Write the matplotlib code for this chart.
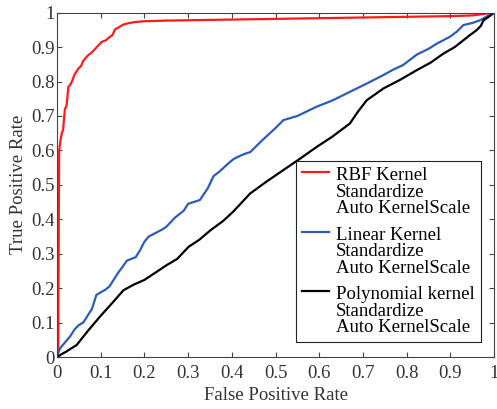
import numpy as np
import matplotlib
matplotlib.use('Agg')
import matplotlib.pyplot as plt
from matplotlib.legend_handler import HandlerLine2D
from matplotlib.ticker import FuncFormatter

# ROC curves
rbf_fpr = [0, 0.003, 0.003, 0.004, 0.004, 0.005, 0.008, 0.011, 0.014, 0.018, 0.022, 0.026,
           0.030, 0.034, 0.040, 0.049, 0.055, 0.060, 0.070, 0.080, 0.091, 0.102, 0.112,
           0.121, 0.127, 0.133, 0.142, 0.151, 0.165, 0.180, 0.197, 0.25, 0.3, 0.4, 0.5,
           0.6, 0.7, 0.8, 0.9, 0.95, 1.0]
rbf_tpr = [0, 0.02, 0.10, 0.38, 0.40, 0.60, 0.63, 0.65, 0.66, 0.72, 0.73, 0.785,
           0.79, 0.80, 0.82, 0.838, 0.845, 0.86, 0.875, 0.885, 0.90, 0.915, 0.92,
           0.93, 0.935, 0.952, 0.958, 0.965, 0.97, 0.973, 0.975, 0.977, 0.978, 0.980, 0.982,
           0.984, 0.986, 0.988, 0.990, 0.992, 1.0]

lin_fpr = [0, 0.005, 0.010, 0.020, 0.030, 0.040, 0.050, 0.060, 0.070, 0.080, 0.090, 0.100,
           0.110, 0.120, 0.130, 0.140, 0.150, 0.160, 0.170, 0.180, 0.190, 0.200, 0.210,
           0.225, 0.240, 0.250, 0.270, 0.290, 0.300, 0.327, 0.345, 0.358, 0.373, 0.390,
           0.404, 0.420, 0.434, 0.442, 0.470, 0.500, 0.518, 0.550, 0.594, 0.630, 0.670,
           0.710, 0.747, 0.770, 0.792, 0.823, 0.850, 0.869, 0.899, 0.915, 0.930, 0.950,
           0.968, 0.985, 1.0]
lin_tpr = [0, 0.02, 0.03, 0.045, 0.06, 0.08, 0.093, 0.10, 0.12, 0.14, 0.18, 0.188,
           0.195, 0.205, 0.225, 0.245, 0.262, 0.28, 0.285, 0.29, 0.31, 0.335, 0.35,
           0.36, 0.37, 0.378, 0.405, 0.425, 0.445, 0.456, 0.49, 0.525, 0.54, 0.56,
           0.575, 0.585, 0.592, 0.595, 0.63, 0.665, 0.688, 0.70, 0.727, 0.745, 0.770,
           0.795, 0.819, 0.835, 0.848, 0.878, 0.895, 0.910, 0.930, 0.945, 0.964, 0.970,
           0.978, 0.99, 1.0]

poly_fpr = [0, 0.010, 0.020, 0.045, 0.070, 0.098, 0.125, 0.152, 0.175, 0.200, 0.225, 0.251,
            0.275, 0.301, 0.325, 0.352, 0.380, 0.403, 0.442, 0.480, 0.518, 0.555, 0.594,
            0.630, 0.670, 0.690, 0.709, 0.747, 0.785, 0.823, 0.855, 0.884, 0.910, 0.930,
            0.945, 0.960, 0.970, 0.976, 0.990, 1.0]
poly_tpr = [0, 0.008, 0.015, 0.035, 0.075, 0.117, 0.155, 0.194, 0.21, 0.224, 0.245, 0.267,
            0.285, 0.32, 0.34, 0.369, 0.395, 0.422, 0.475, 0.51, 0.543, 0.575, 0.610,
            0.640, 0.678, 0.715, 0.746, 0.780, 0.805, 0.833, 0.855, 0.881, 0.900, 0.920,
            0.935, 0.949, 0.962, 0.978, 0.99, 1.0]

labels = ['RBF Kernel\nStandardize\nAuto KernelScale',
          'Linear Kernel\nStandardize\nAuto KernelScale',
          'Polynomial kernel\nStandardize\nAuto KernelScale']
colors = ['#ff1a1a', '#2a5cb8', '#000000']

plt.rcParams['font.family'] = ['Liberation Serif', 'DejaVu Serif']
FS = 13.5
LEG_FS = 13.5
LSP = 0.96


class TopLineHandler(HandlerLine2D):
    # put the legend line next to the first row of a multi-line label
    def create_artists(self, legend, orig_handle, xdescent, ydescent, width, height, fontsize, trans):
        arts = super().create_artists(legend, orig_handle, xdescent, ydescent, width, height, fontsize, trans)
        shift = LSP * 1.2 * fontsize * 0.93
        for a in arts:
            a.set_ydata(np.asarray(a.get_ydata()) + shift)
        return arts


fig = plt.figure(figsize=(4.97, 4.09), dpi=100)
ax = fig.add_axes([0.1147, 0.127, 0.8793, 0.842])

curves = [(rbf_fpr, rbf_tpr), (lin_fpr, lin_tpr), (poly_fpr, poly_tpr)]
for (x, y), lab, c in zip(curves, labels, colors):
    ax.plot(x, y, color=c, lw=1.6, label=lab)

ax.set_xlim(0, 1)
ax.set_ylim(0, 1)
ticks = np.arange(0, 1.01, 0.1)
ax.set_xticks(ticks)
ax.set_yticks(ticks)
fmt = FuncFormatter(lambda v, p: '%g' % round(v, 1))
ax.xaxis.set_major_formatter(fmt)
ax.yaxis.set_major_formatter(fmt)
ax.tick_params(direction='in', top=True, right=True, length=3.5, width=0.8,
               colors='#444444', labelcolor='#333333', labelsize=FS)
ax.tick_params(axis='x', pad=5.5)
ax.tick_params(axis='y', pad=1.5)
for s in ax.spines.values():
    s.set_color('#444444')
    s.set_linewidth(0.8)

ax.set_xlabel('False Positive Rate', fontsize=FS, color='#333333', labelpad=3.5)
ax.set_ylabel('True Positive Rate', fontsize=FS, color='#333333', labelpad=3)

leg = ax.legend(loc='lower right', bbox_to_anchor=(0.97, 0.0435), borderaxespad=0,
                fancybox=False, edgecolor='#222222', framealpha=1, handlelength=1.45,
                handletextpad=0.38, labelspacing=0.5, borderpad=0.32, fontsize=LEG_FS,
                handler_map={matplotlib.lines.Line2D: TopLineHandler()})
leg.get_frame().set_linewidth(0.8)
for t in leg.get_texts():
    t.set_linespacing(LSP)

fig.savefig('out.png', dpi=100)
